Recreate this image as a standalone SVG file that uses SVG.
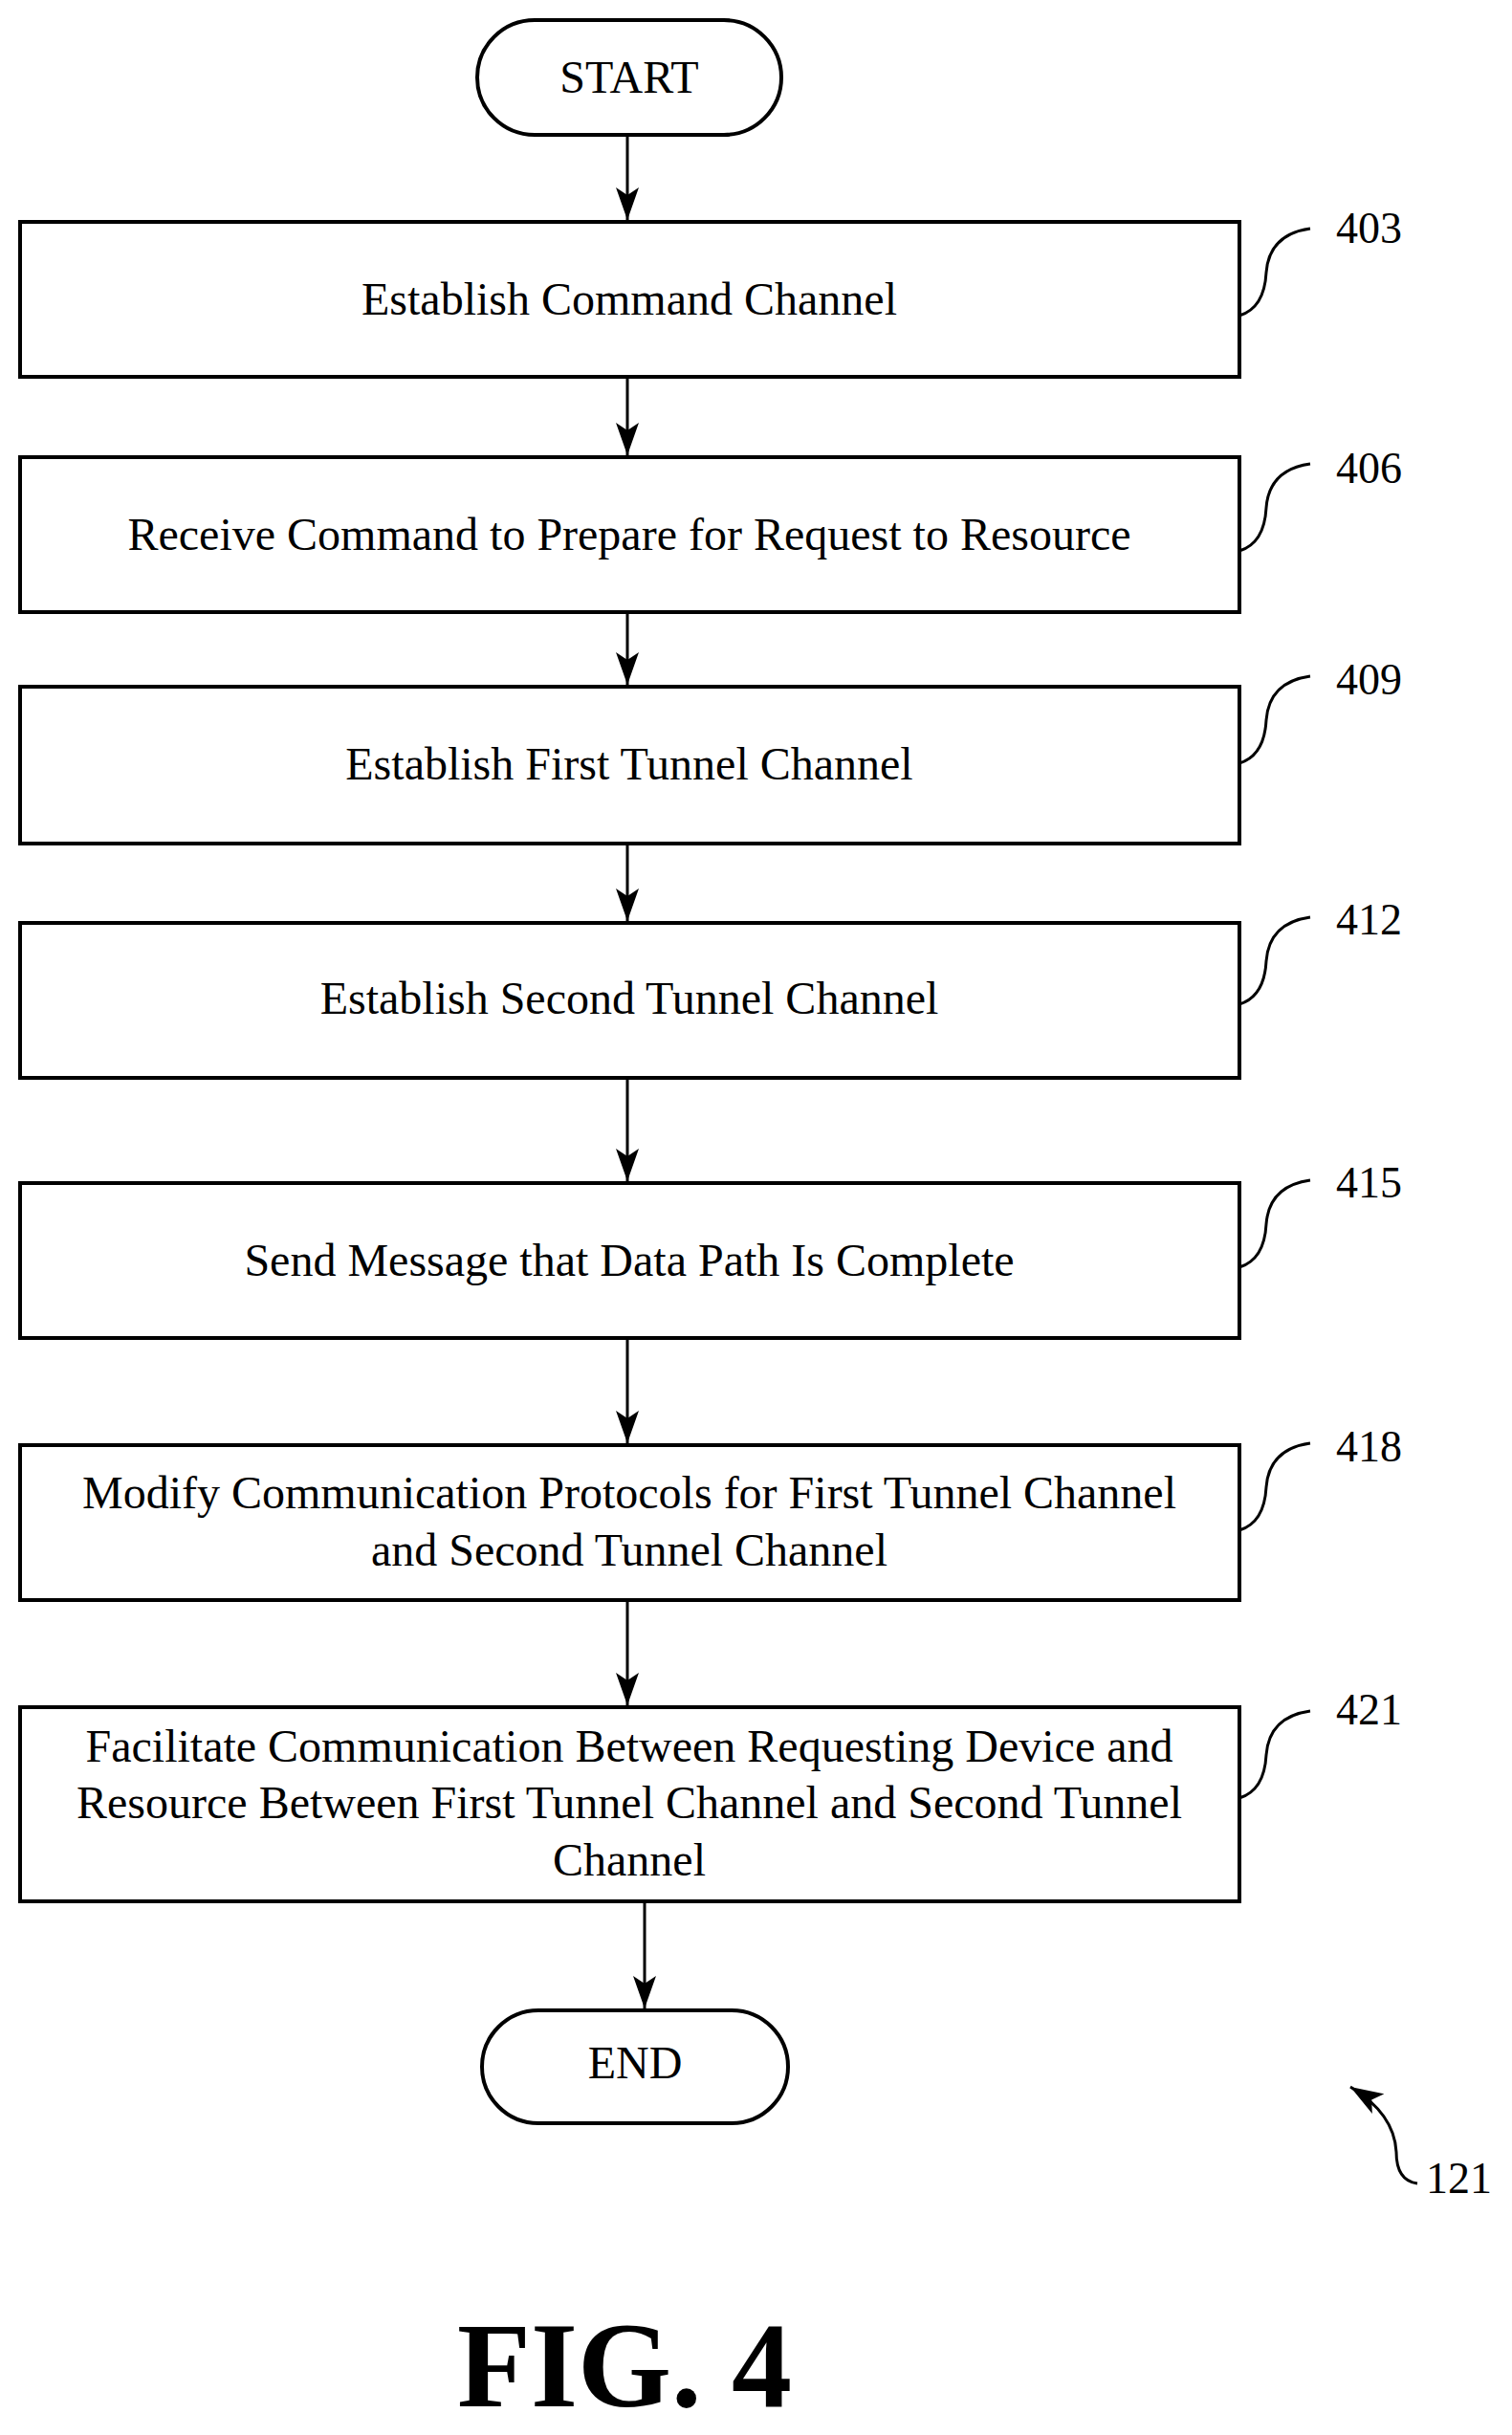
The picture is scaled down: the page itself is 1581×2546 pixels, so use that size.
<svg xmlns="http://www.w3.org/2000/svg" width="1581" height="2546" viewBox="0 0 1581 2546">
<style>
.b{fill:#fff;stroke:#000;stroke-width:4}
.t{font-family:"Liberation Serif",serif;font-size:48px;text-anchor:middle;fill:#000}
.l{font-family:"Liberation Serif",serif;font-size:46px;fill:#000}
.c{fill:none;stroke:#000;stroke-width:3}
</style>
<defs>
<marker id="h" markerWidth="34" markerHeight="24" refX="34" refY="12" orient="auto" markerUnits="userSpaceOnUse" viewBox="0 0 34 24"><path d="M0,0 L34,12 L0,24 L8,12 Z" fill="#000"/></marker></defs>
<rect width="1581" height="2546" fill="#fff"/>
<g id="connectors">
<path class="c" d="M656,142 V230" marker-end="url(#h)"/>
<path class="c" d="M656,396 V476" marker-end="url(#h)"/>
<path class="c" d="M656,642 V716" marker-end="url(#h)"/>
<path class="c" d="M656,884 V963" marker-end="url(#h)"/>
<path class="c" d="M656,1129 V1235" marker-end="url(#h)"/>
<path class="c" d="M656,1401 V1509" marker-end="url(#h)"/>
<path class="c" d="M656,1675 V1783" marker-end="url(#h)"/>
<path class="c" d="M674,1990 V2100" marker-end="url(#h)"/>
</g>
<g id="start"><rect class="b" x="499" y="21" width="318" height="120" rx="60"/><text class="t" x="658" y="97">START</text></g>
<g id="n403"><rect class="b" x="21" y="232" width="1275" height="162"/><text class="t" x="658" y="329">Establish Command Channel</text></g>
<g id="n406"><rect class="b" x="21" y="478" width="1275" height="162"/><text class="t" x="658" y="575">Receive Command to Prepare for Request to Resource</text></g>
<g id="n409"><rect class="b" x="21" y="718" width="1275" height="164"/><text class="t" x="658" y="815">Establish First Tunnel Channel</text></g>
<g id="n412"><rect class="b" x="21" y="965" width="1275" height="162"/><text class="t" x="658" y="1060">Establish Second Tunnel Channel</text></g>
<g id="n415"><rect class="b" x="21" y="1237" width="1275" height="162"/><text class="t" x="658" y="1334">Send Message that Data Path Is Complete</text></g>
<g id="n418"><rect class="b" x="21" y="1511" width="1275" height="162"/><text class="t" x="658" y="1577">Modify Communication Protocols for First Tunnel Channel</text><text class="t" x="658" y="1637">and Second Tunnel Channel</text></g>
<g id="n421"><rect class="b" x="21" y="1785" width="1275" height="203"/><text class="t" x="658" y="1842">Facilitate Communication Between Requesting Device and</text><text class="t" x="658" y="1901">Resource Between First Tunnel Channel and Second Tunnel</text><text class="t" x="658" y="1961">Channel</text></g>
<g id="end"><rect class="b" x="504" y="2102" width="320" height="118" rx="59"/><text class="t" x="664" y="2173">END</text></g>
<g id="labels">
<path class="c" d="M1296,330 Q1322,322 1324,285 Q1327,245 1370,239"/><text class="l" x="1397" y="254">403</text>
<path class="c" d="M1296,576 Q1322,568 1324,531 Q1327,491 1370,485"/><text class="l" x="1397" y="505">406</text>
<path class="c" d="M1296,798 Q1322,790 1324,753 Q1327,713 1370,707"/><text class="l" x="1397" y="726">409</text>
<path class="c" d="M1296,1050 Q1322,1042 1324,1005 Q1327,965 1370,959"/><text class="l" x="1397" y="977">412</text>
<path class="c" d="M1296,1325 Q1322,1317 1324,1280 Q1327,1240 1370,1234"/><text class="l" x="1397" y="1252">415</text>
<path class="c" d="M1296,1600 Q1322,1592 1324,1555 Q1327,1515 1370,1509"/><text class="l" x="1397" y="1528">418</text>
<path class="c" d="M1296,1880 Q1322,1872 1324,1835 Q1327,1795 1370,1789"/><text class="l" x="1397" y="1803">421</text>
<path class="c" d="M1482,2283 Q1460,2280 1460,2250 Q1458,2210 1412,2182" marker-end="url(#h)"/><text class="l" x="1491" y="2293">121</text>
</g>
<text x="653" y="2516" font-family="Liberation Serif,serif" font-weight="bold" font-size="126" text-anchor="middle">FIG. 4</text>
</svg>
